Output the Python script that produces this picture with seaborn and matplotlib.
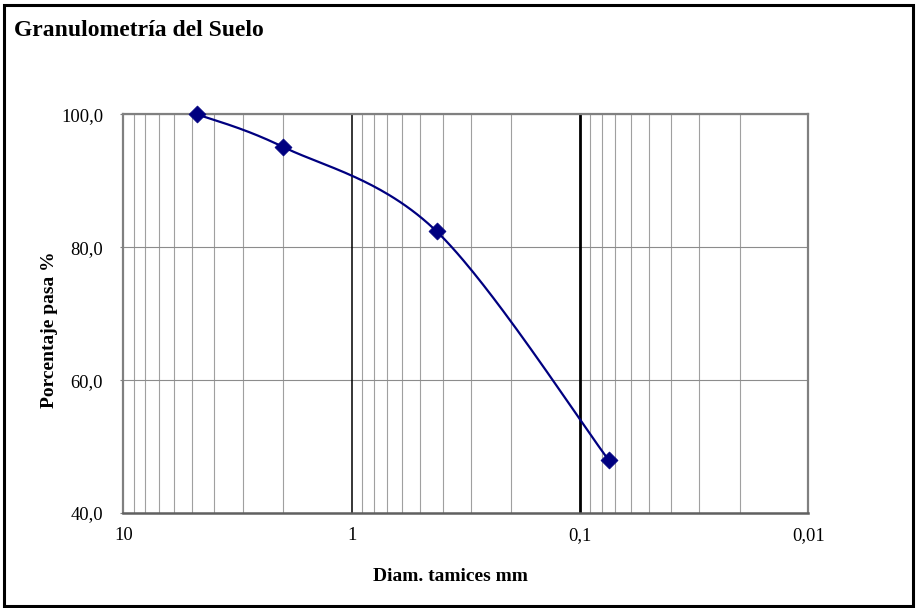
import numpy as np
import pandas as pd
import matplotlib
matplotlib.use("Agg")
import matplotlib.pyplot as plt
from matplotlib.ticker import FixedLocator, FuncFormatter, LogLocator, NullFormatter
from matplotlib.patches import Rectangle
import seaborn as sns

# Sieve analysis data
diametro_mm = [4.75, 2.0, 0.425, 0.075]
porcentaje_pasa = [100.0, 95.1, 82.4, 48.0]

x_ticks = [10, 1, 0.1, 0.01]
x_tick_labels = ["10", "1", "0,1", "0,01"]
y_ticks = [40, 60, 80, 100]

titulo = "Granulometría del Suelo"
x_label = "Diam. tamices mm"
y_label = "Porcentaje pasa %"

sns.set_theme(style="white")
plt.rcParams["font.family"] = ["Liberation Serif", "DejaVu Serif"]


def smooth_curve(x, y, n=60):
    """Catmull-Rom spline through the points in (log10 x, y) space."""
    lx = np.log10(np.asarray(x, float))
    yy = np.asarray(y, float)
    P = np.column_stack([lx, yy])
    ext = np.vstack([P[0], P, P[-1]])
    out = []
    for i in range(len(P) - 1):
        p0, p1, p2, p3 = ext[i], ext[i + 1], ext[i + 2], ext[i + 3]
        b1 = p1 + (p2 - p0) / 6.0
        b2 = p2 - (p3 - p1) / 6.0
        t = np.linspace(0, 1, n)[:, None]
        seg = ((1 - t) ** 3) * p1 + 3 * ((1 - t) ** 2) * t * b1 + 3 * (1 - t) * t ** 2 * b2 + t ** 3 * p2
        out.append(seg if i == 0 else seg[1:])
    c = np.vstack(out)
    return 10 ** c[:, 0], c[:, 1]


cx, cy = smooth_curve(diametro_mm, porcentaje_pasa)
curve = pd.DataFrame({"d": cx, "p": cy})
points = pd.DataFrame({"d": diametro_mm, "p": porcentaje_pasa})

fig = plt.figure(figsize=(9.17, 6.08), dpi=100)
ax = fig.add_axes([0.1345, 0.1562, 0.8815 - 0.1345, 0.812 - 0.1562])

ax.set_xscale("log")
ax.set_xlim(10, 0.01)
ax.set_ylim(40, 100)

# Ticks and grid
ax.xaxis.set_major_locator(FixedLocator(x_ticks))
ax.xaxis.set_major_formatter(FuncFormatter(
    lambda v, p: x_tick_labels[int(np.argmin([abs(np.log10(t) - np.log10(v)) for t in x_ticks]))]))
ax.xaxis.set_minor_locator(LogLocator(base=10, subs=np.arange(2, 10)))
ax.xaxis.set_minor_formatter(NullFormatter())
ax.yaxis.set_major_locator(FixedLocator(y_ticks))
ax.yaxis.set_major_formatter(FuncFormatter(lambda v, p: f"{v:.1f}".replace(".", ",")))

ax.grid(which="minor", axis="x", color="#a0a0a0", linewidth=0.8)
ax.grid(which="major", axis="y", color="#8c8c8c", linewidth=0.8)
ax.axvline(1, color="black", linewidth=1.1, zorder=1.5)
ax.axvline(0.1, color="black", linewidth=2.0, zorder=1.5)

sns.lineplot(data=curve, x="d", y="p", sort=False, estimator=None, color="#000080",
             linewidth=1.6, ax=ax, zorder=3, clip_on=False)
sns.scatterplot(data=points, x="d", y="p", marker="D", s=75, color="#000080",
                edgecolor="#000080", linewidth=0.5, ax=ax, zorder=4, clip_on=False)

for side in ["left", "right", "top"]:
    ax.spines[side].set_color("#808080")
    ax.spines[side].set_linewidth(1.6)
ax.spines["bottom"].set_color("#606060")
ax.spines["bottom"].set_linewidth(1.8)

ax.tick_params(axis="y", which="major", length=2.5, width=0.8, color="#808080",
               labelsize=13.3, pad=12, left=True)
ax.tick_params(axis="x", which="both", length=0, labelsize=13.3, pad=10)
for lab in ax.get_xticklabels() + ax.get_yticklabels():
    lab.set_color("black")

ax.set_xlabel(x_label, fontsize=14, fontweight="bold", color="black")
ax.set_ylabel(y_label, fontsize=14, fontweight="bold", color="black")
ax.xaxis.set_label_coords(0.478, -0.137)
ax.yaxis.set_label_coords(-0.095, 0.459)

fig.text(14 / 917, 1 - 30 / 608, titulo, fontsize=17, fontweight="bold",
         ha="left", va="center", color="black")

# Outer chart frame
fig.patches.append(Rectangle((0.004, 0.004), 0.992, 0.988, transform=fig.transFigure,
                             fill=False, edgecolor="black", linewidth=2.2))

fig.savefig("out.png", dpi=100)
